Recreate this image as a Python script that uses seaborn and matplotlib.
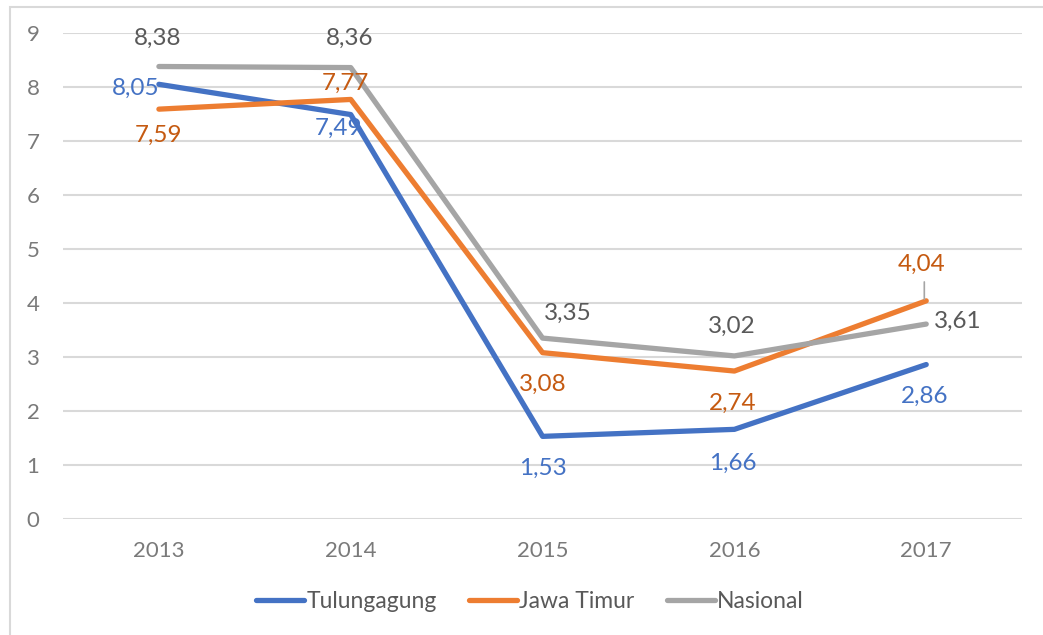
import matplotlib
matplotlib.use("Agg")
import matplotlib.pyplot as plt
import seaborn as sns
import pandas as pd
from matplotlib.lines import Line2D
from matplotlib.patches import Rectangle

years = ["2013", "2014", "2015", "2016", "2017"]
tulungagung = [8.05, 7.49, 1.53, 1.66, 2.86]
jawa_timur = [7.59, 7.77, 3.08, 2.74, 4.04]
nasional = [8.38, 8.36, 3.35, 3.02, 3.61]
series_names = ["Tulungagung", "Jawa Timur", "Nasional"]
y_ticks = [0, 1, 2, 3, 4, 5, 6, 7, 8, 9]

colors = {"Tulungagung": "#4472C4", "Jawa Timur": "#ED7D31", "Nasional": "#A5A5A5"}
label_colors = {"Tulungagung": "#4472C4", "Jawa Timur": "#C55A11", "Nasional": "#595959"}

sns.set_theme(style="white")
plt.rcParams["font.family"] = ["Lato", "DejaVu Sans"]

rows = []
for name, vals in zip(series_names, [tulungagung, jawa_timur, nasional]):
    for i, v in enumerate(vals):
        rows.append({"idx": i, "value": v, "series": name})
df = pd.DataFrame(rows)

fig = plt.figure(figsize=(10.43, 6.35), dpi=100)
ax = fig.add_axes([0.0604, 0.1827, 0.9196, 0.7653])

sns.lineplot(data=df, x="idx", y="value", hue="series", hue_order=series_names,
             palette=colors, linewidth=3.8, ax=ax, legend=False, sort=False)

ax.set_xlim(-0.5, 4.5)
ax.set_ylim(0, 9)
ax.set_yticks(y_ticks)
ax.set_yticklabels([str(t) for t in y_ticks])
ax.set_xticks(range(len(years)))
ax.set_xticklabels(years)
ax.grid(axis="y", color="#D9D9D9", linewidth=1.5)
ax.set_axisbelow(True)
for s in ax.spines.values():
    s.set_visible(False)
ax.tick_params(axis="both", length=0, labelsize=16, labelcolor="#7A7A7A")
ax.tick_params(axis="y", pad=17)
ax.tick_params(axis="x", pad=16)
ax.set_xlabel("")
ax.set_ylabel("")

def fmt(v):
    return f"{v:.2f}".replace(".", ",")

# label offsets in points (dx, dy)
offsets = {
    "Tulungagung": [(-17, -3), (-9, -10), (0, -23), (-1, -24.5), (-1, -23)],
    "Jawa Timur": [(0, -19), (-4, 11.5), (0, -23), (-1, -23), (-3, 26)],
    "Nasional": [(-1, 20.5), (-1, 21), (18.5, 18), (-2, 21), (23, 2)],
}
for name, vals in zip(series_names, [tulungagung, jawa_timur, nasional]):
    for i, v in enumerate(vals):
        dx, dy = offsets[name][i]
        ax.annotate(fmt(v), (i, v), xytext=(dx, dy), textcoords="offset points",
                    ha="center", va="center", fontsize=17.5, color=label_colors[name])

# leader line for 4,04
ax.annotate("", xy=(3.99, 4.07), xytext=(3.99, 4.39),
            arrowprops=dict(arrowstyle="-", color="#A5A5A5", lw=1.2,
                            shrinkA=0, shrinkB=0))

handles = [Line2D([0], [0], color=colors[n], lw=3.8) for n in series_names]
fig.legend(handles, series_names, loc="center", bbox_to_anchor=(0.508, 0.052), ncol=3,
           frameon=False, fontsize=16.5, handlelength=2.1, handletextpad=0.1,
           columnspacing=1.4, labelcolor="#595959")

# outer chart border (partially visible)
fig.patches.append(Rectangle((0.0095, -0.1), 1.2, 1.089, transform=fig.transFigure,
                             fill=False, edgecolor="#D9D9D9", linewidth=1.5))

fig.savefig("out.png", dpi=100)
